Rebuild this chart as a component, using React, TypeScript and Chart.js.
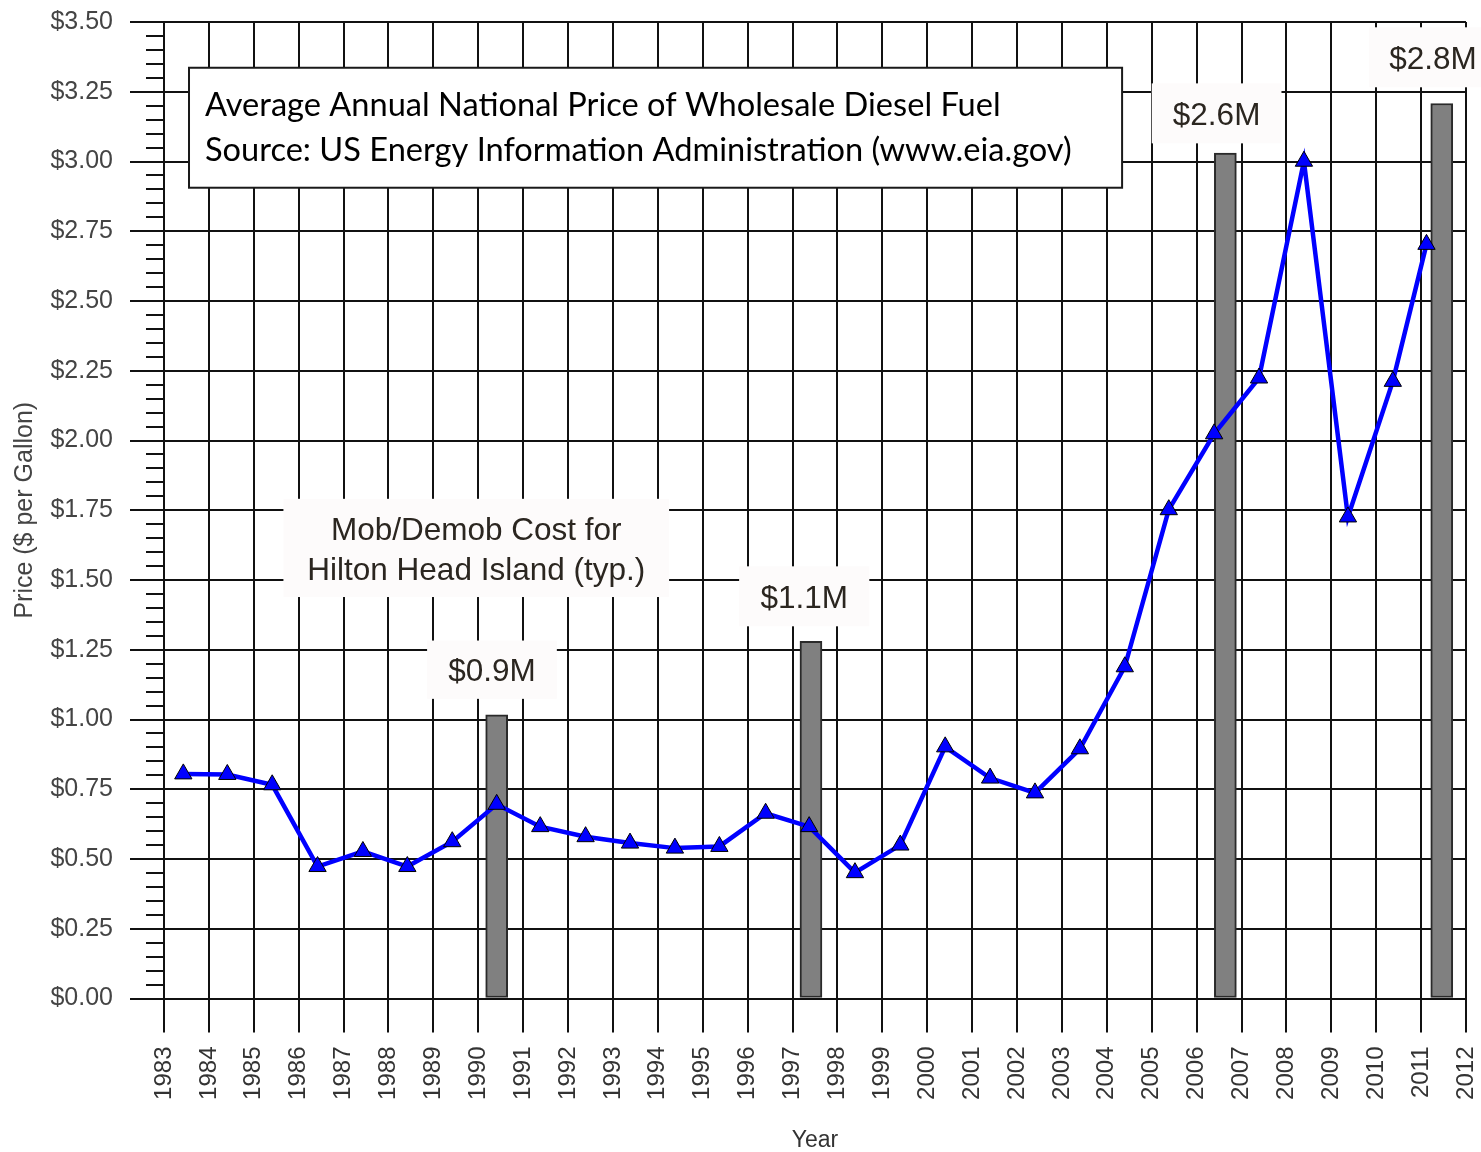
import React, { useEffect, useRef } from 'react';
import { Chart, registerables } from 'chart.js';

Chart.register(...registerables);

// ---- Data ----
const priceYears = [
  1983.43, 1984.41, 1985.41, 1986.42, 1987.43, 1988.42, 1989.42, 1990.41, 1991.38, 1992.39,
  1993.38, 1994.38, 1995.37, 1996.40, 1997.37, 1998.39, 1999.40, 2000.40, 2001.40, 2002.40,
  2003.40, 2004.40, 2005.38, 2006.39, 2007.39, 2008.39, 2009.37, 2010.37, 2011.12,
];
const dieselPrices = [
  0.805, 0.803, 0.766, 0.473, 0.527, 0.473, 0.562, 0.696, 0.616, 0.580,
  0.557, 0.539, 0.545, 0.664, 0.616, 0.451, 0.550, 0.902, 0.790, 0.737,
  0.895, 1.189, 1.752, 2.024, 2.224, 3.001, 1.726, 2.212, 2.703,
];
const costBarYears = [1990.41, 1997.41, 2006.64, 2011.46];
const costBarHeights = [1.017, 1.28, 3.03, 3.208];
const costBarLabels = ['$0.9M', '$1.1M', '$2.6M', '$2.8M'];
const noteLines = ['Mob/Demob Cost for', 'Hilton Head Island (typ.)'];
const titleLines = [
  'Average Annual National Price of Wholesale Diesel Fuel',
  'Source: US Energy Information Administration (www.eia.gov)',
];
const yTickValues = [0, 0.25, 0.5, 0.75, 1, 1.25, 1.5, 1.75, 2, 2.25, 2.5, 2.75, 3, 3.25, 3.5];
const xTickYears = [1983, 2012];

// ---- Annotation layout (axis units) ----
const costLabelBoxes = [
  { x1: 1988.86, x2: 1991.75, y1: 1.074, y2: 1.283 },
  { x1: 1995.81, x2: 1998.71, y1: 1.334, y2: 1.549 },
  { x1: 2005.0, x2: 2007.89, y1: 3.065, y2: 3.28 },
  { x1: 2009.84, x2: 2012.69, y1: 3.266, y2: 3.481 },
];
const noteBox = { x1: 1985.66, x2: 1994.25, y1: 1.439, y2: 1.791 };
const titleBox = { x1: 1983.557, x2: 2004.34, y1: 2.906, y2: 3.336 };

const GRID = '#111111';
const LABEL_BG = '#fdfbfb';
const LABEL_TEXT = '#2b2620';

const overlayPlugin = {
  id: 'overlay',
  beforeDatasetsDraw(chart: any) {
    const { ctx } = chart;
    const xs = chart.scales.x;
    const ys = chart.scales.y;
    const rect = (b: any) => {
      const l = xs.getPixelForValue(b.x1);
      const r = xs.getPixelForValue(b.x2);
      const t = ys.getPixelForValue(b.y2);
      const bt = ys.getPixelForValue(b.y1);
      return { l, r, t, bt };
    };
    ctx.save();
    const drawNote = (b: any, lines: string[]) => {
      const { l, r, t, bt } = rect(b);
      ctx.fillStyle = LABEL_BG;
      ctx.fillRect(l, t, r - l, bt - t);
      ctx.fillStyle = LABEL_TEXT;
      ctx.font = '31.5px "Liberation Sans", Arial, sans-serif';
      ctx.textAlign = 'center';
      ctx.textBaseline = 'middle';
      const cx = (l + r) / 2;
      const cy = (t + bt) / 2 + 3;
      lines.forEach((s, i) => ctx.fillText(s, cx, cy + (i - (lines.length - 1) / 2) * 40));
    };
    costLabelBoxes.forEach((b, i) => drawNote(b, [costBarLabels[i]]));
    drawNote(noteBox, noteLines);

    // title box
    const { l, r, t, bt } = rect(titleBox);
    ctx.fillStyle = '#ffffff';
    ctx.fillRect(l, t, r - l, bt - t);
    ctx.strokeStyle = '#1a1a1a';
    ctx.lineWidth = 2;
    ctx.strokeRect(l, t, r - l, bt - t);
    ctx.font = '30px Lato, sans-serif';
    const w = ctx.measureText(titleLines[0]).width;
    const size = (30 * 796) / w;
    ctx.font = `${size}px Lato, sans-serif`;
    ctx.fillStyle = '#000000';
    ctx.textAlign = 'left';
    ctx.textBaseline = 'alphabetic';
    ctx.fillText(titleLines[0], l + 16, t + 48.5);
    ctx.fillText(titleLines[1], l + 16, t + 93.5);
    ctx.restore();
  },
  afterDraw(chart: any) {
    const { ctx } = chart;
    const ys = chart.scales.y;
    ctx.save();
    ctx.strokeStyle = GRID;
    ctx.lineWidth = 2;
    const right = chart.chartArea.left;
    for (let i = 0; i <= 70; i++) {
      if (i % 5 === 0) continue;
      const py = Math.round(ys.getPixelForValue(i * 0.05));
      ctx.beginPath();
      ctx.moveTo(right - 18, py);
      ctx.lineTo(right, py);
      ctx.stroke();
    }
    ctx.restore();
  },
};

const zeroPadding = (s: any) => {
  s.paddingTop = 0;
  s.paddingBottom = 0;
  s.paddingLeft = 0;
  s.paddingRight = 0;
};

export default function App() {
  const ref = useRef<HTMLCanvasElement | null>(null);
  useEffect(() => {
    if (!ref.current) return;
    Chart.defaults.font.family = '"Liberation Sans", Arial, sans-serif';
    const chart = new Chart(ref.current, {
      type: 'line',
      data: {
        datasets: [
          {
            type: 'line',
            label: 'Diesel price',
            data: priceYears.map((x, i) => ({ x, y: dieselPrices[i] })),
            borderColor: '#0000ff',
            borderWidth: 4.5,
            tension: 0,
            pointStyle: 'triangle',
            pointRadius: 10,
            pointBackgroundColor: '#0000ff',
            pointBorderColor: '#000000',
            pointBorderWidth: 1,
            order: 1,
          } as any,
          {
            type: 'bar',
            label: 'Mob/Demob cost',
            data: costBarYears.map((x, i) => ({ x, y: costBarHeights[i] })),
            backgroundColor: '#808080',
            borderColor: '#2a2a2a',
            borderWidth: 2,
            borderSkipped: false,
            barThickness: 22,
            grouped: false,
            order: 2,
          } as any,
        ],
      },
      options: {
        animation: false,
        responsive: false,
        devicePixelRatio: 1,
        layout: { padding: { top: 22, right: 15, left: 0, bottom: 0 } },
        plugins: { legend: { display: false }, tooltip: { enabled: false } },
        scales: {
          x: {
            type: 'linear',
            min: xTickYears[0],
            max: xTickYears[1],
            offset: false,
            afterFit: (s: any) => {
              s.height = 153.5;
              zeroPadding(s);
            },
            grid: {
              offset: false,
              color: GRID,
              lineWidth: 2,
              tickLength: 34,
              tickColor: GRID,
              tickWidth: 2,
            },
            border: { display: true, color: GRID, width: 2 },
            ticks: {
              stepSize: 1,
              autoSkip: false,
              maxRotation: 90,
              minRotation: 90,
              padding: 14,
              color: '#333333',
              font: { size: 24 },
              callback: (v: any) => String(v),
            },
            title: {
              display: true,
              text: 'Year',
              color: '#333333',
              font: { size: 23, lineHeight: 1 },
              padding: { top: 0, bottom: 0 },
            },
          },
          y: {
            type: 'linear',
            min: yTickValues[0],
            max: yTickValues[yTickValues.length - 1],
            afterFit: (s: any) => {
              s.width = 164;
              zeroPadding(s);
            },
            afterBuildTicks: (s: any) => {
              s.ticks = yTickValues.map((v) => ({ value: v }));
            },
            grid: { color: GRID, lineWidth: 2, tickLength: 34, tickColor: GRID, tickWidth: 2 },
            border: { display: true, color: GRID, width: 2 },
            ticks: {
              padding: 17,
              color: '#444444',
              font: { size: 25 },
              callback: (v: any) => '$' + Number(v).toFixed(2),
            },
            title: {
              display: true,
              text: 'Price ($ per Gallon)',
              color: '#444444',
              font: { size: 25 },
              padding: { top: 10, bottom: 0 },
            },
          },
        },
      },
      plugins: [overlayPlugin],
    });
    return () => chart.destroy();
  }, []);
  return (
    <div style={{ position: 'absolute', left: 0, top: 0, width: 1481, height: 1152 }}>
      <canvas ref={ref} width={1481} height={1152} style={{ display: 'block' }} />
    </div>
  );
}
